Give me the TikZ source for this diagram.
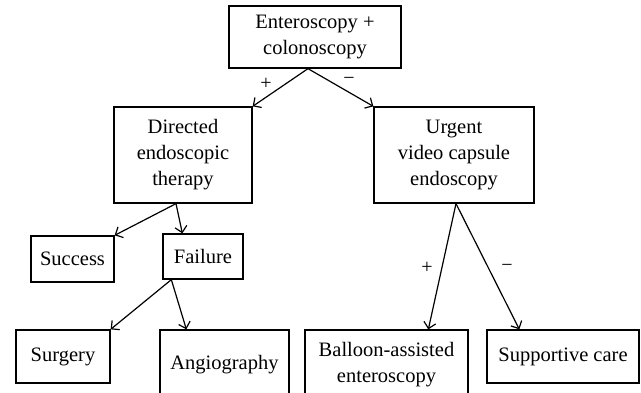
\documentclass[tikz,border=0pt]{standalone}
\usepackage{fontspec}
\setmainfont{Liberation Serif}
\usetikzlibrary{arrows.meta,calc}
\begin{document}
\begin{tikzpicture}[x=1pt,y=-1pt,
  box/.style={draw, line width=1.3pt, align=center, inner sep=0pt,
    font=\fontsize{20.5}{26}\selectfont},
  arr/.style={line width=1.2pt, -{Straight Barb[length=6pt,width=12pt,line width=1.2pt]}},
  sign/.style={inner sep=0pt, font=\fontsize{20}{22}\selectfont}]
\useasboundingbox (0,0) rectangle (641,393);
\clip (0,0) rectangle (641,393);
\node[box, minimum width=172pt, minimum height=62pt] (top) at (315,37) {Enteroscopy +\\colonoscopy};
\node[box, minimum width=138pt, minimum height=96pt] (dir) at (183,155) {Directed\\endoscopic\\therapy};
\node[box, minimum width=160pt, minimum height=96pt] (urg) at (454,155) {Urgent\\video capsule\\endoscopy};
\node[box, minimum width=83pt, minimum height=46pt] (suc) at (72.5,259) {Success};
\node[box, minimum width=80pt, minimum height=45pt] (fail) at (203,256.5) {Failure};
\node[box, minimum width=94pt, minimum height=53pt] (surg) at (63,356.5) {Surgery};
\node[box, minimum width=129pt, minimum height=70pt] (ang) at (224.5,365) {Angiography};
\node[box, minimum width=163pt, minimum height=70pt] (bal) at (386.5,365) {Balloon-assisted\\enteroscopy};
\node[box, minimum width=152pt, minimum height=53pt] (sup) at (563,356.5) {Supportive care};
\draw[arr] ([xshift=-7pt]top.south) -- (dir.north east);
\draw[arr] ([xshift=-7pt]top.south) -- (urg.north west);
\draw[arr] ([xshift=-7pt]dir.south) -- (suc.north east);
\draw[arr] ([xshift=-7pt]dir.south) -- ($(fail.north west)+(20,0)$);
\draw[arr] ($(fail.south west)+(9,0)$) -- (surg.north east);
\draw[arr] ($(fail.south west)+(9,0)$) -- ($(ang.north west)+(27,0)$);
\draw[arr] ([xshift=2pt]urg.south) -- ($(bal.north west)+(124,0)$);
\draw[arr] ([xshift=2pt]urg.south) -- ($(sup.north west)+(33,0)$);
\node[sign] (p1) at (266,84) {+};
\node[sign] (m1) at (349,81) {−};
\node[sign] (p2) at (427,268) {+};
\node[sign] (m2) at (507,268) {−};
\end{tikzpicture}
\end{document}
